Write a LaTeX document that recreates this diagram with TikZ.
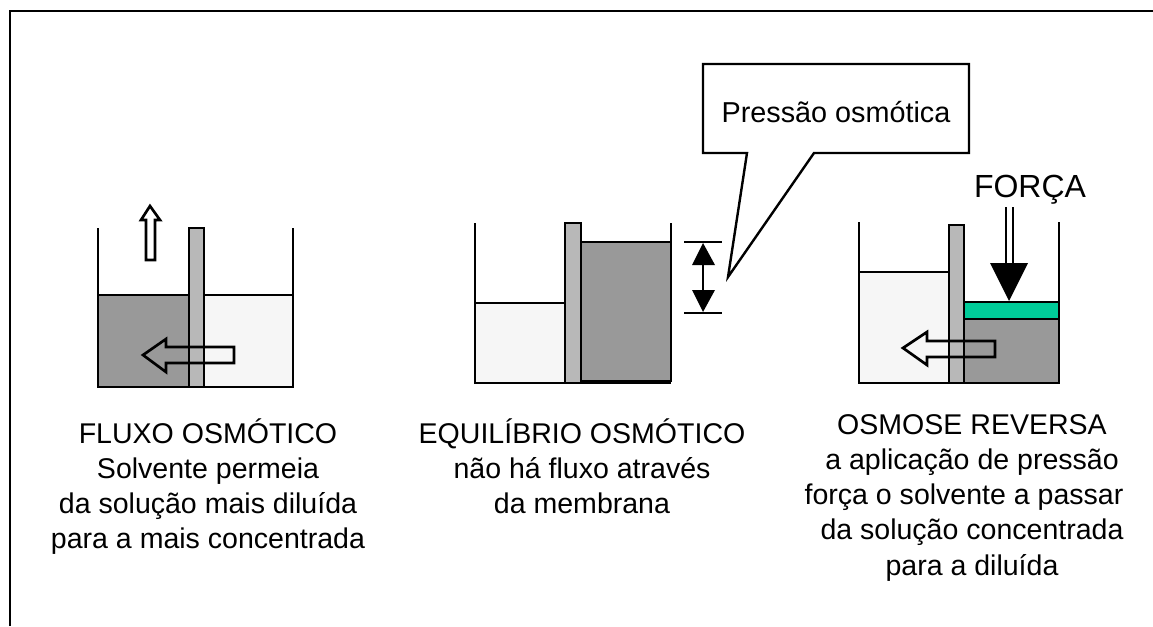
\documentclass[tikz,border=0pt]{standalone}
\usepackage{fontspec}
\setmainfont{Liberation Sans}
\definecolor{dense}{gray}{0.60}
\definecolor{pale}{gray}{0.965}
\definecolor{barrier}{gray}{0.72}
\definecolor{piston}{HTML}{00CC99}
\tikzset{
  outline/.style={draw=black,line width=1.8pt,line join=miter},
  wall/.style={draw=black,line width=1.6pt},
  membrane/.style={outline,fill=barrier},
  flow/.style={draw=black,line width=2pt,line join=miter},
  solid tip/.style={fill=black,draw=none},
  caption/.style={font=\fontsize{21.4}{26.4}\selectfont,align=center,anchor=north,inner sep=0pt},
}
\begin{document}
\begin{tikzpicture}[x=0.75pt,y=-0.75pt]
\useasboundingbox (0,0) rectangle (1153,626);

% Outer frame: only the top and left edges are ruled
\draw[black,line width=2.2pt] (10,626) -- (10,11) -- (1153,11);

% Osmotic flow tank
\fill[dense] (98,295) rectangle (189,387);
\fill[pale] (204,295) rectangle (293,387);
\draw[wall] (98,228) -- (98,387) -- (293,387) -- (293,228);
\draw[outline] (98,295) -- (189,295) (204,295) -- (293,295);
\draw[membrane] (189,228) rectangle (204,387);
\draw[flow] (150,206) -- (160,220) -- (155,220) -- (155,260) -- (146,260) -- (146,220) -- (141,220) -- cycle;
\draw[flow] (143,355) -- (166,339) -- (166,347) -- (234,347) -- (234,363) -- (166,363) -- (166,372) -- cycle;

% Osmotic equilibrium tank
\fill[pale] (475,303) rectangle (565,383);
\fill[dense] (581,242) rectangle (671,382);
\draw[wall] (475,223) -- (475,383) -- (565,383);
\draw[wall] (671,223) -- (671,382);
\draw[outline] (475,303) -- (565,303) (581,242) -- (671,242);
\draw[black,line width=2.6pt] (581,382) -- (671,382);
\draw[membrane] (565,223) rectangle (581,383);

% Height difference between the two levels
\draw[black,line width=1.6pt] (684,242) -- (722,242) (684,313) -- (722,313) (703,250) -- (703,305);
\fill[solid tip] (703,243) -- (715,265) -- (692,265) -- cycle;
\fill[solid tip] (703,312) -- (715,290) -- (692,290) -- cycle;

% Callout naming the height difference
\coordinate (calloutTip) at (728,277);
\draw[outline,fill=white] (703,64) -- (969,64) -- (969,153) -- (814,153) -- (calloutTip) -- (747,153) -- (703,153) -- cycle;
\node[inner sep=0pt,anchor=base,font=\fontsize{21.6}{26}\selectfont] (calloutText) at (836,122) {Pressão osmótica};

% Reverse osmosis tank
\fill[pale] (859,272) rectangle (949,383);
\fill[dense] (964,319) rectangle (1059,383);
\fill[piston] (964,302) rectangle (1059,319);
\draw[wall] (859,222) -- (859,383) -- (1059,383) -- (1059,222);
\draw[outline] (859,272) -- (949,272) (964,302) -- (1059,302) (964,319) -- (1059,319);
\draw[membrane] (949,225) rectangle (964,383);
\draw[flow] (903,348) -- (927,332) -- (927,341) -- (995,341) -- (995,357) -- (927,357) -- (927,365) -- cycle;

% Applied force
\node[inner sep=0pt,anchor=base,font=\fontsize{24}{28}\selectfont] (forceLabel) at (1030,197) {FORÇA};
\draw[black,line width=1.6pt] (1006,207) -- (1006,264) (1013,207) -- (1013,264);
\fill[solid tip] (1009,301) -- (990,263) -- (1028,263) -- cycle;

% Captions
\node[caption] (capFlow) at (208,418) {FLUXO OSMÓTICO\\Solvente permeia\\da solução mais diluída\\para a mais concentrada};
\node[caption] (capBalance) at (582,418) {EQUILÍBRIO OSMÓTICO\\não há fluxo através\\da membrana};
\node[caption] (capReverse) at (972,414) {OSMOSE REVERSA\\a aplicação de pressão\\força o solvente a passar\kern12pt\\da solução concentrada\\para a diluída};
\end{tikzpicture}
\end{document}
